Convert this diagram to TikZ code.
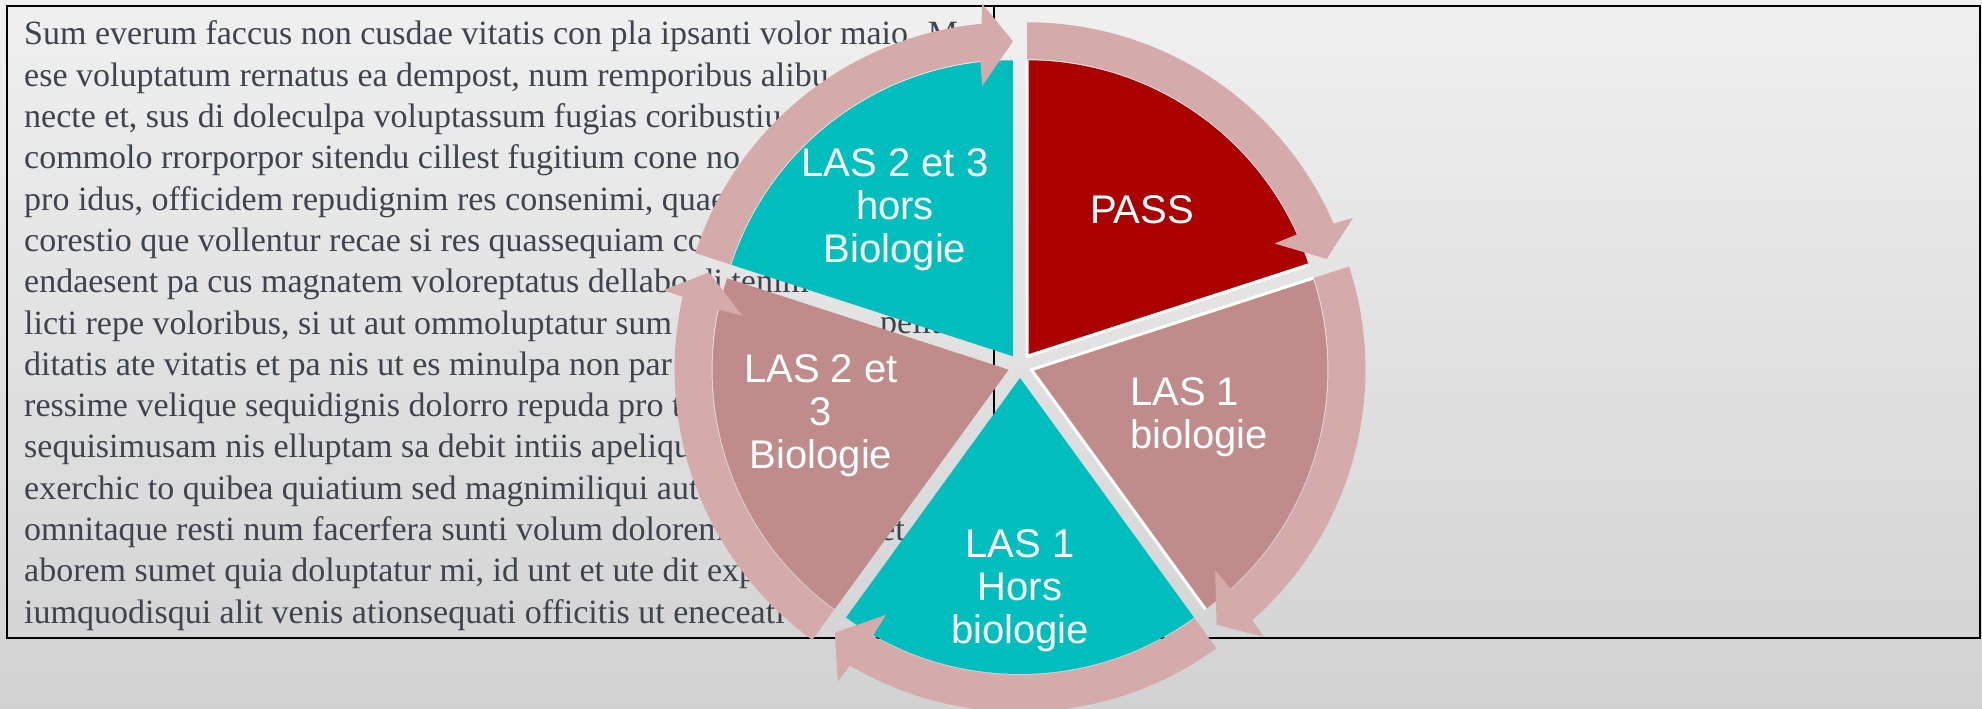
\documentclass[tikz,border=0pt]{standalone}
\usepackage{xcolor}
\usepackage{tikz}
\usepackage{fontspec}
\setmainfont{Liberation Serif}
\newfontfamily\slicefont{Liberation Sans}

\definecolor{passred}{RGB}{170,0,0}
\definecolor{lasteal}{RGB}{0,190,190}
\definecolor{lasmauve}{RGB}{192,139,139}
\definecolor{arrowpink}{RGB}{212,170,170}
\definecolor{bodygrey}{RGB}{62,68,78}
\definecolor{paperlight}{RGB}{240,240,240}
\definecolor{paperdark}{RGB}{210,210,210}

\tikzset{
  bodyline/.style={anchor=base west, inner sep=0pt, text=bodygrey, font=\fontsize{34}{41}\selectfont},
  slicelabel/.style={text=white, align=center, inner sep=0pt, font=\slicefont\fontsize{40}{43}\selectfont},
  framerule/.style={draw=black, line width=2.5pt},
}

\begin{document}
\begin{tikzpicture}[x=1pt,y=1pt]
  \useasboundingbox (0,0) rectangle (1982,709);
  \shade[top color=paperlight, bottom color=paperdark] (0,0) rectangle (1982,709);

  % text column, runs on under the cycle
  \begin{scope}
    \clip (7,71) rectangle (994,703);
    \foreach \ln [count=\i] in {
        {Sum everum faccus non cusdae vitatis con pla ipsanti volor maio. M},
        {ese voluptatum rernatus ea dempost, num remporibus alibu},
        {necte et, sus di doleculpa voluptassum fugias coribustiu},
        {commolo rrorporpor sitendu cillest fugitium cone no},
        {pro idus, officidem repudignim res consenimi, quae},
        {corestio que vollentur recae si res quassequiam co},
        {endaesent pa cus magnatem voloreptatus dellabo di tenim},
        {licti repe voloribus, si ut aut ommoluptatur sum},
        {ditatis ate vitatis et pa nis ut es minulpa non par},
        {ressime velique sequidignis dolorro repuda pro t},
        {sequisimusam nis elluptam sa debit intiis apeliqu},
        {exerchic to quibea quiatium sed magnimiliqui aut},
        {omnitaque resti num facerfera sunti volum dolorem},
        {aborem sumet quia doluptatur mi, id unt et ute dit exp},
        {iumquodisqui alit venis ationsequati officitis ut eneceati}}
      \node[bodyline] (line\i) at (24,{664-41.3*(\i-1)}) {\ln};
    \node[bodyline] (pelita) at (880,375) {pelita};
    \node[bodyline] (et) at (880,168) {et};
  \end{scope}

  \draw[framerule] (7,71) rectangle (1980,703);
  \draw[framerule] (994,703) -- (994,71);

  % slices, white rim on the straight sides only
  \foreach \startang/\col/\edge in {90/passred/white, 18/lasmauve/white, -54/lasteal/none, -126/lasmauve/none, 162/lasteal/none}
  {
    \begin{scope}[shift={(1020,343)}, shift={({\startang-36}:12)}]
      \fill[fill=\col] (0,0) -- (\startang:296)
        arc[start angle=\startang, end angle=\startang-72, radius=296] -- cycle;
      \path[draw=\edge, line width=3pt, line join=miter] (\startang:296) -- (0,0) -- ({\startang-72}:296);
    \end{scope}
  }

  % arrows round the cycle
  \foreach \startang in {90,18,-54,-126,162}
  {
    \pgfmathsetmacro\endang{\startang-72}
    \begin{scope}[shift={(1020,343)}, shift={({\startang-36}:12)}]
      \fill[arrowpink] (\startang:297)
        arc[start angle=\startang, end angle=\endang+6.3, radius=297]
        -- ({\endang+6.5}:272) -- (\endang:315) -- ({\endang+5}:354) -- ({\endang+5.4}:334)
        arc[start angle=\endang+5.4, end angle=\startang, radius=334] -- cycle;
    \end{scope}
  }

  \node[slicelabel] (pass) at (1142,499) {PASS};
  \node[slicelabel] (las1bio) [anchor=west, align=left] at (1130,292) {LAS 1\\biologie};
  \node[slicelabel] (las1hors) at (1020,118) {LAS 1\\Hors\\biologie};
  \node[slicelabel] (las23bio) at (821,293) {LAS 2 et\\3\\Biologie};
  \node[slicelabel] (las23hors) at (895,499) {LAS 2 et 3\\hors\\Biologie};
\end{tikzpicture}
\end{document}
